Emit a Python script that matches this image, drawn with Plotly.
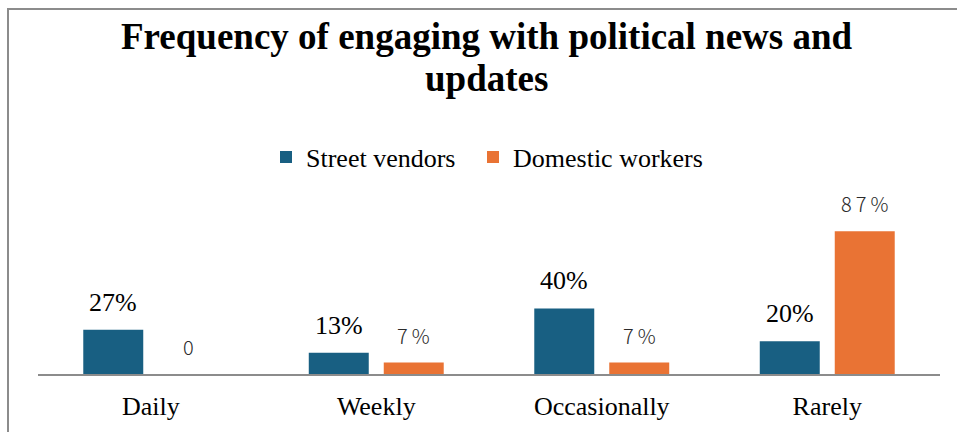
import plotly.graph_objects as go

# Survey responses: how often each group engages with political news
categories = ["Daily", "Weekly", "Occasionally", "Rarely"]
street_vendors = [27, 13, 40, 20]
domestic_workers = [0, 7, 7, 87]
series_names = ["Street vendors", "Domestic workers"]
title_lines = ["Frequency of engaging with political news and", "updates"]

BLUE = "#185f82"
ORANGE = "#e97334"
SERIF = "Liberation Serif"

W, H = 957, 432
ML, MR, MT, MB = 38, 17, 210, 58
PW, PH = W - ML - MR, H - MT - MB
BARGAP, GROUPGAP = 0.335, 0.2


def px_x(px):
    return (px - ML) / PW


def px_y(py):
    return (H - MB - py) / PH


fig = go.Figure()
fig.add_trace(go.Bar(name=series_names[0], x=categories, y=street_vendors,
                     marker=dict(color=BLUE, line=dict(width=0)), legend="legend"))
fig.add_trace(go.Bar(name=series_names[1], x=categories, y=domestic_workers,
                     marker=dict(color=ORANGE, line=dict(width=0)), legend="legend2"))

# value labels above each bar
slot = (1 - BARGAP) / 2
offsets = [-slot / 2, slot / 2]
annotations = []
for i, cat in enumerate(categories):
    v = street_vendors[i]
    annotations.append(dict(
        x=i + offsets[0], y=v, xref="x", yref="y", text=f"{v}%",
        showarrow=False, yanchor="bottom", yshift=11,
        font=dict(family=SERIF, size=26, color="#000000")))
    d = domestic_workers[i]
    label = "0" if d == 0 else "\u2009".join(list(f"{d}%"))
    annotations.append(dict(
        x=i + offsets[1], y=d, xref="x", yref="y", text=label,
        showarrow=False, yanchor="bottom", yshift=11,
        font=dict(family="Noto Sans CJK JP", size=20, color="#2b2b2b", weight=300)))

# two-line bold title
for line, mid in zip(title_lines, [36, 78]):
    annotations.append(dict(
        x=px_x(486.5), y=px_y(mid), xref="paper", yref="paper",
        xanchor="center", yanchor="middle", showarrow=False,
        text=f"<b>{line}</b>",
        font=dict(family=SERIF, size=37, color="#000000")))

legend_style = dict(orientation="h", xanchor="left", yanchor="middle",
                    y=px_y(157), bgcolor="rgba(0,0,0,0)", itemwidth=30,
                    font=dict(family=SERIF, size=26, color="#000000"))

fig.update_layout(
    width=W, height=H,
    margin=dict(l=ML, r=MR, t=MT, b=MB, autoexpand=False),
    paper_bgcolor="white", plot_bgcolor="white",
    barmode="group", bargap=BARGAP, bargroupgap=GROUPGAP,
    legend=dict(x=px_x(266), **legend_style),
    legend2=dict(x=px_x(473), **legend_style),
    xaxis=dict(type="category", showline=True, linecolor="#8c8c8c", linewidth=2,
               ticks="", showgrid=False, ticklabelstandoff=8,
               tickfont=dict(family=SERIF, size=26, color="#000000")),
    yaxis=dict(range=[0, 100], visible=False, showgrid=False, zeroline=False),
    annotations=annotations,
    showlegend=True,
)

# outer chart frame
fig.add_shape(type="rect", xref="paper", yref="paper",
              x0=px_x(8), x1=1.2, y0=-1, y1=px_y(9),
              line=dict(color="#8c8c8c", width=2), fillcolor="rgba(0,0,0,0)",
              layer="above")

fig.write_html("out.html")
